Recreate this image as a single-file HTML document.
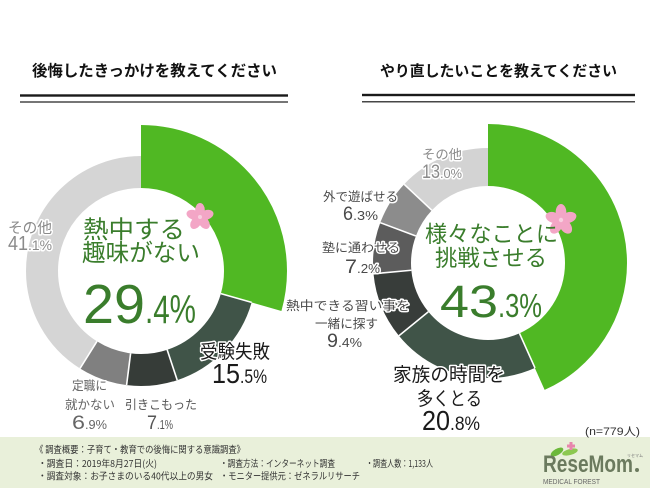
<!DOCTYPE html>
<html><head><meta charset="utf-8">
<style>
html,body{margin:0;padding:0;background:#fff;}
svg{display:block;}
text{font-family:"Liberation Sans","Noto Sans CJK JP",sans-serif;}
.j{font-family:"Noto Sans CJK JP","Liberation Sans",sans-serif;}
.o{paint-order:stroke;stroke:#fff;stroke-width:3;stroke-linejoin:round;}
</style></head><body>
<svg width="650" height="488" viewBox="0 0 650 488" xmlns="http://www.w3.org/2000/svg">
<rect width="650" height="488" fill="#fff"/>

<!-- headers -->
<text x="32" y="76" class="j" font-size="15.5" font-weight="700" textLength="245" lengthAdjust="spacingAndGlyphs" fill="#111">後悔したきっかけを教えてください</text>
<rect x="20" y="94.3" width="268" height="2.4" fill="#1a1a1a"/>
<rect x="20" y="101.4" width="268" height="1.2" fill="#1a1a1a"/>
<text x="380" y="76" class="j" font-size="15" font-weight="700" textLength="237" lengthAdjust="spacingAndGlyphs" fill="#111">やり直したいことを教えてください</text>
<rect x="362" y="93.8" width="273" height="2.4" fill="#1a1a1a"/>
<rect x="362" y="101.2" width="273" height="1.2" fill="#1a1a1a"/>

<!-- LEFT DONUT -->
<g transform="rotate(-90 141 271)" fill="none">
<circle cx="141" cy="271" r="114.5" stroke="#50b823" stroke-width="63" stroke-dasharray="211.51 3000"/>
<circle cx="141" cy="271" r="99" stroke="#405448" stroke-width="32" stroke-dasharray="96.42 3000" stroke-dashoffset="-182.88"/>
<circle cx="141" cy="271" r="99" stroke="#363c38" stroke-width="32" stroke-dasharray="44.16 3000" stroke-dashoffset="-279.30"/>
<circle cx="141" cy="271" r="99" stroke="#808080" stroke-width="32" stroke-dasharray="42.92 3000" stroke-dashoffset="-323.46"/>
<circle cx="141" cy="271" r="99" stroke="#d5d5d5" stroke-width="32" stroke-dasharray="255.66 3000" stroke-dashoffset="-366.38"/>
</g>
<g stroke="#fff" stroke-width="1.6">
<line x1="220.85" y1="293.65" x2="251.63" y2="302.38"/>
<line x1="167.15" y1="349.78" x2="177.22" y2="380.15"/>
<line x1="130.60" y1="353.35" x2="126.59" y2="385.09"/>
<line x1="96.97" y1="341.36" x2="79.99" y2="368.49"/>
</g>

<!-- RIGHT DONUT -->
<g transform="rotate(-90 488 263)" fill="none">
<circle cx="488" cy="263" r="108" stroke="#50b823" stroke-width="62" stroke-dasharray="293.82 3000"/>
<circle cx="488" cy="263" r="96" stroke="#405448" stroke-width="38" stroke-dasharray="125.46 3000" stroke-dashoffset="-261.18"/>
<circle cx="488" cy="263" r="96" stroke="#383d3a" stroke-width="38" stroke-dasharray="56.70 3000" stroke-dashoffset="-386.64"/>
<circle cx="488" cy="263" r="96" stroke="#5c5c5c" stroke-width="38" stroke-dasharray="43.43 3000" stroke-dashoffset="-443.34"/>
<circle cx="488" cy="263" r="96" stroke="#8c8c8c" stroke-width="38" stroke-dasharray="38.00 3000" stroke-dashoffset="-486.77"/>
<circle cx="488" cy="263" r="96" stroke="#d3d3d3" stroke-width="38" stroke-dasharray="78.41 3000" stroke-dashoffset="-524.78"/>
</g>
<g stroke="#fff" stroke-width="1.6">
<line x1="519.46" y1="333.28" x2="534.99" y2="367.96"/>
<line x1="428.36" y1="311.71" x2="398.93" y2="335.75"/>
<line x1="411.34" y1="270.25" x2="373.51" y2="273.82"/>
<line x1="415.88" y1="236.01" x2="380.29" y2="222.69"/>
<line x1="431.87" y1="210.29" x2="404.17" y2="184.28"/>
</g>

<!-- sakura -->
<g transform="translate(200 217)" fill="#f3a6c6">
<ellipse cx="0" cy="-7" rx="4.8" ry="7"/>
<ellipse cx="0" cy="-7" rx="4.8" ry="7" transform="rotate(72)"/>
<ellipse cx="0" cy="-7" rx="4.8" ry="7" transform="rotate(144)"/>
<ellipse cx="0" cy="-7" rx="4.8" ry="7" transform="rotate(216)"/>
<ellipse cx="0" cy="-7" rx="4.8" ry="7" transform="rotate(288)"/>
<circle r="2" fill="#f8d0e0"/>
</g>
<g transform="translate(561 220)" fill="#f3a6c6">
<ellipse cx="0" cy="-8" rx="5.3" ry="8"/>
<ellipse cx="0" cy="-8" rx="5.3" ry="8" transform="rotate(72)"/>
<ellipse cx="0" cy="-8" rx="5.3" ry="8" transform="rotate(144)"/>
<ellipse cx="0" cy="-8" rx="5.3" ry="8" transform="rotate(216)"/>
<ellipse cx="0" cy="-8" rx="5.3" ry="8" transform="rotate(288)"/>
<circle r="2.2" fill="#f8d0e0"/>
</g>

<!-- left center text -->
<g fill="#3a7d2c">
<text x="83" y="238" class="j" font-size="24.5" textLength="102" lengthAdjust="spacingAndGlyphs">熱中する</text>
<text x="82" y="261" class="j" font-size="24" textLength="118" lengthAdjust="spacingAndGlyphs">趣味がない</text>
<text x="83" y="323" font-size="55" textLength="62" lengthAdjust="spacingAndGlyphs">29</text>
<text x="145" y="323" font-size="40" textLength="51" lengthAdjust="spacingAndGlyphs">.4%</text>
</g>

<!-- right center text -->
<g fill="#3a7d2c">
<text x="425" y="242" class="j" font-size="22.5" textLength="133" lengthAdjust="spacingAndGlyphs">様々なことに</text>
<text x="435" y="266" class="j" font-size="22.5" textLength="112" lengthAdjust="spacingAndGlyphs">挑戦させる</text>
<text x="440" y="317" font-size="45" textLength="58" lengthAdjust="spacingAndGlyphs">43</text>
<text x="498" y="317" font-size="33" textLength="44" lengthAdjust="spacingAndGlyphs">.3%</text>
</g>

<!-- left labels -->
<g class="o" fill="#8a8a8a">
<text x="8" y="233" class="j o" font-size="14.5" textLength="44" lengthAdjust="spacingAndGlyphs">その他</text>
<text x="8" y="250" class="o" font-size="20" textLength="20" lengthAdjust="spacingAndGlyphs">41</text>
<text x="28" y="250" class="o" font-size="14" textLength="24" lengthAdjust="spacingAndGlyphs">.1%</text>
</g>
<g fill="#1a1a1a">
<text x="200" y="358" class="j o" font-size="19" textLength="70" lengthAdjust="spacingAndGlyphs">受験失敗</text>
<text x="212" y="383" class="o" font-size="28" textLength="28" lengthAdjust="spacingAndGlyphs">15</text>
<text x="240" y="383" class="o" font-size="19" textLength="27" lengthAdjust="spacingAndGlyphs">.5%</text>
</g>
<g fill="#666">
<text x="72" y="390" class="j o" font-size="12.5" textLength="35" lengthAdjust="spacingAndGlyphs">定職に</text>
<text x="65" y="409" class="j o" font-size="12.5" textLength="50" lengthAdjust="spacingAndGlyphs">就かない</text>
<text x="72" y="429" class="o" font-size="19" textLength="13" lengthAdjust="spacingAndGlyphs">6</text>
<text x="85" y="429" class="o" font-size="13" textLength="22" lengthAdjust="spacingAndGlyphs">.9%</text>
</g>
<g fill="#555">
<text x="125" y="409" class="j o" font-size="12.5" textLength="72" lengthAdjust="spacingAndGlyphs">引きこもった</text>
<text x="147" y="429" class="o" font-size="19" textLength="10" lengthAdjust="spacingAndGlyphs">7</text>
<text x="157" y="429" class="o" font-size="13" textLength="16" lengthAdjust="spacingAndGlyphs">.1%</text>
</g>

<!-- right labels -->
<g fill="#8a8a8a">
<text x="422" y="159" class="j o" font-size="13" textLength="40" lengthAdjust="spacingAndGlyphs">その他</text>
<text x="422" y="178" class="o" font-size="19" textLength="18" lengthAdjust="spacingAndGlyphs">13</text>
<text x="440" y="178" class="o" font-size="13" textLength="22" lengthAdjust="spacingAndGlyphs">.0%</text>
</g>
<g fill="#4a4a4a">
<text x="323" y="201" class="j o" font-size="12.5" textLength="75" lengthAdjust="spacingAndGlyphs">外で遊ばせる</text>
<text x="343" y="220" class="o" font-size="19" textLength="10" lengthAdjust="spacingAndGlyphs">6</text>
<text x="353" y="220" class="o" font-size="13" textLength="25" lengthAdjust="spacingAndGlyphs">.3%</text>
<text x="322" y="252" class="j o" font-size="12.5" textLength="78" lengthAdjust="spacingAndGlyphs">塾に通わせる</text>
<text x="345" y="273" class="o" font-size="19" textLength="12" lengthAdjust="spacingAndGlyphs">7</text>
<text x="357" y="273" class="o" font-size="13" textLength="23" lengthAdjust="spacingAndGlyphs">.2%</text>
<text x="286" y="310" class="j o" font-size="12.5" textLength="124" lengthAdjust="spacingAndGlyphs">熱中できる習い事を</text>
<text x="315" y="328" class="j o" font-size="12.5" textLength="63" lengthAdjust="spacingAndGlyphs">一緒に探す</text>
<text x="327" y="347" class="o" font-size="19" textLength="11" lengthAdjust="spacingAndGlyphs">9</text>
<text x="338" y="347" class="o" font-size="13" textLength="24" lengthAdjust="spacingAndGlyphs">.4%</text>
</g>
<g fill="#1a1a1a">
<text x="393" y="381" class="j o" font-size="19" textLength="112" lengthAdjust="spacingAndGlyphs">家族の時間を</text>
<text x="417" y="405" class="j o" font-size="19" textLength="65" lengthAdjust="spacingAndGlyphs">多くとる</text>
<text x="422" y="430" class="o" font-size="28" textLength="28" lengthAdjust="spacingAndGlyphs">20</text>
<text x="450" y="430" class="o" font-size="19" textLength="30" lengthAdjust="spacingAndGlyphs">.8%</text>
</g>

<!-- footer -->
<rect x="0" y="437" width="650" height="51" fill="#e9f0da"/>
<text x="585" y="435" font-size="11" fill="#333" textLength="55" lengthAdjust="spacingAndGlyphs">(n=779人)</text>
<g fill="#333" font-size="9.5" class="j">
<text x="35" y="453" class="j" textLength="210" lengthAdjust="spacingAndGlyphs">《 調査概要：子育て・教育での後悔に関する意識調査》</text>
<text x="38" y="467" class="j" textLength="119" lengthAdjust="spacingAndGlyphs">・調査日：2019年8月27日(火)</text>
<text x="220" y="467" class="j" textLength="115" lengthAdjust="spacingAndGlyphs">・調査方法：インターネット調査</text>
<text x="366" y="467" class="j" textLength="67" lengthAdjust="spacingAndGlyphs">・調査人数：1,133人</text>
<text x="38" y="479.5" class="j" textLength="175" lengthAdjust="spacingAndGlyphs">・調査対象：お子さまのいる40代以上の男女</text>
<text x="220" y="479.5" class="j" textLength="140" lengthAdjust="spacingAndGlyphs">・モニター提供元：ゼネラルリサーチ</text>
</g>

<!-- logo -->
<ellipse cx="557" cy="452" rx="7" ry="3.2" fill="#6cb83a" transform="rotate(-30 557 452)"/>
<ellipse cx="570" cy="452" rx="8" ry="3" fill="#8cc850" transform="rotate(-15 570 452)"/>
<rect x="569.5" y="442" width="3" height="8" fill="#e886ac"/>
<rect x="567" y="444.5" width="8" height="3" fill="#e886ac"/>
<text x="543" y="472" font-size="24" font-weight="700" fill="#6b7a5e" textLength="90" lengthAdjust="spacingAndGlyphs">ReseMom</text>
<circle cx="637" cy="470" r="2" fill="#6b7a5e"/>
<text x="627" y="457" class="j" font-size="4" fill="#777">リセマム</text>
<text x="543" y="484" font-size="7.5" fill="#666" textLength="57" lengthAdjust="spacingAndGlyphs">MEDICAL FOREST</text>
</svg>
</body></html>
